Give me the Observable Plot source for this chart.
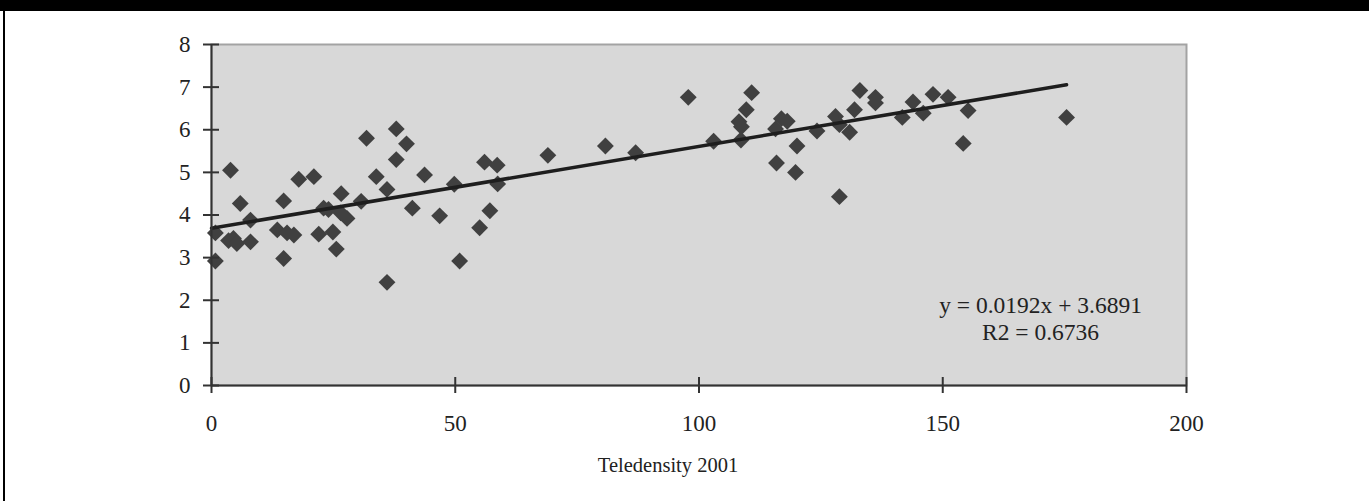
<!DOCTYPE html>
<html>
<head>
<meta charset="utf-8">
<script src="https://cdn.jsdelivr.net/npm/d3@7"></script>
<script src="https://cdn.jsdelivr.net/npm/@observablehq/plot@0.6"></script>
<style>
  html, body { margin: 0; padding: 0; background: #fff; }
  body { width: 1369px; height: 501px; overflow: hidden; position: relative; font-family: "Liberation Serif", "Times New Roman", serif; }
  #bar { position: absolute; left: 0; top: 0; width: 1369px; height: 11px; background: #000; }
  #edge { position: absolute; left: 3px; top: 11px; width: 2px; height: 490px; background: #000; }
  #chart { position: absolute; left: 0; top: 11px; }
</style>
</head>
<body>
<div id="bar"></div>
<div id="edge"></div>
<div id="chart"></div>
<script>
// Teledensity 2001 (x) vs. index value (y)
const teledensity = [0.8, 0.8, 3.9, 3.5, 4.5, 5.2, 5.9, 8.0, 8.0, 13.5, 14.8, 14.8, 15.5, 16.9, 17.9, 21.0, 22.0, 23.0, 24.0, 24.9,
  25.6, 26.6, 26.5, 27.8, 30.7, 31.8, 33.8, 36.0, 36.0, 37.9, 37.9, 40.0, 41.2, 43.7, 46.8, 49.8, 50.9, 55.0, 57.1, 56.0,
  58.6, 58.7, 69.0, 80.8, 87.0, 97.8, 103.0, 109.7, 108.2, 108.7, 108.6, 110.8, 116.9, 118.1, 115.7, 115.9, 120.1, 119.8, 124.2, 128.0,
  128.8, 128.8, 130.9, 131.9, 133.0, 136.2, 136.2, 141.7, 143.9, 146.0, 148.0, 151.1, 154.2, 155.2, 175.4];
const values = [2.92, 3.58, 5.05, 3.40, 3.45, 3.33, 4.27, 3.88, 3.37, 3.65, 4.33, 2.98, 3.58, 3.53, 4.84, 4.90, 3.55, 4.16, 4.13, 3.60,
  3.20, 4.50, 4.05, 3.92, 4.32, 5.80, 4.90, 4.60, 2.42, 6.02, 5.30, 5.67, 4.16, 4.94, 3.98, 4.72, 2.92, 3.70, 4.10, 5.24,
  5.17, 4.73, 5.40, 5.62, 5.46, 6.76, 5.73, 6.47, 6.19, 6.07, 5.76, 6.87, 6.26, 6.20, 6.02, 5.22, 5.62, 5.00, 5.97, 6.31,
  6.12, 4.43, 5.94, 6.47, 6.92, 6.76, 6.63, 6.29, 6.65, 6.39, 6.83, 6.76, 5.68, 6.45, 6.29];

const slope = 0.0192;
const intercept = 3.6891;
const equationLines = ["y = 0.0192x + 3.6891", "R2 = 0.6736"];
const xLabel = "Teledensity 2001";
const xTicks = [0, 50, 100, 150, 200];
const yTicks = [0, 1, 2, 3, 4, 5, 6, 7, 8];

const points = teledensity.map((x, i) => ({x, y: values[i]}));
const xExt = [0, d3.max(teledensity)];
const fit = xExt.map(x => ({x, y: slope * x + intercept}));

const chart = Plot.plot({
  width: 1369,
  height: 490,
  marginLeft: 211,
  marginRight: 183,
  marginTop: 33,
  marginBottom: 116,
  style: {fontFamily: '"Liberation Serif", "Times New Roman", serif', fontSize: "23px", color: "#222", background: "transparent"},
  x: {domain: [0, 200]},
  y: {domain: [0, 8]},
  marks: [
    Plot.frame({fill: "#d8d8d8"}),
    Plot.frame({stroke: "#a3a3a3", strokeWidth: 2}),
    Plot.dot(points, {x: "x", y: "y", symbol: "diamond2", r: 7.6, fill: "#404040"}),
    Plot.line(fit, {x: "x", y: "y", stroke: "#1e1e1e", strokeWidth: 3.5}),
    Plot.ruleX([0], {stroke: "#333", strokeWidth: 2}),
    Plot.ruleY([0], {stroke: "#333", strokeWidth: 2}),
    Plot.axisX({ticks: xTicks, tickSize: 16, dy: -8, tickPadding: 21, stroke: "#333", strokeWidth: 2, fill: "#222", fontSize: 23, label: null}),
    Plot.axisY({ticks: yTicks, tickSize: 16, dx: 8, tickPadding: 13, stroke: "#333", strokeWidth: 2, fill: "#222", fontSize: 23, label: null}),
    Plot.text([equationLines.join("\n")], {text: d => d, frameAnchor: "bottom-right", dx: -146, dy: -68, textAnchor: "middle", lineAnchor: "middle", lineHeight: 1.15, fontSize: 23.5, fill: "#222"}),
    Plot.text([xLabel], {text: d => d, frameAnchor: "bottom", dx: -31, dy: 80, textAnchor: "middle", lineAnchor: "middle", fontSize: 20.5, fill: "#222"})
  ]
});
document.getElementById("chart").appendChild(chart);
</script>
</body>
</html>
